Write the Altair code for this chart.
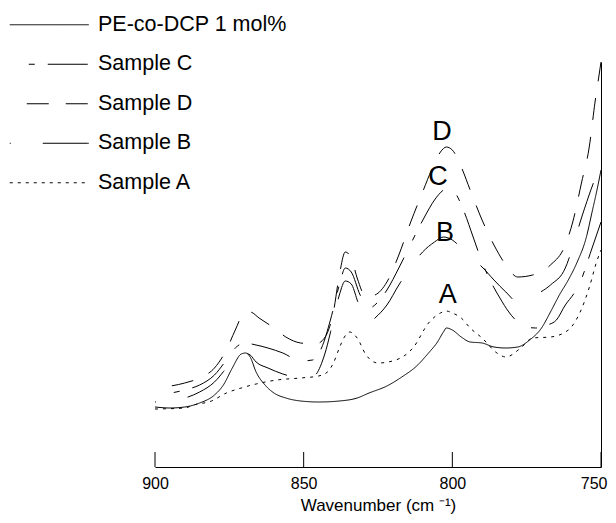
import altair as alt
import pandas as pd

# ---- data (wavenumber, absorbance in arbitrary units) ----
wn_pe = [900, 895, 890, 885, 880, 877, 874, 871, 869.5, 868, 866, 863, 860, 856, 851, 845, 838, 832, 828, 822,
         817, 812, 808, 805, 803, 802, 800, 797, 794, 790, 786, 782, 778, 774, 770, 767, 764, 761, 758, 755,
         753, 751, 750]
val_pe = [0.60, 0.59, 0.60, 0.64, 0.72, 0.82, 0.99, 1.13, 1.14, 1.10, 0.95, 0.82, 0.74, 0.69, 0.66, 0.65, 0.66,
          0.69, 0.74, 0.81, 0.90, 1.01, 1.14, 1.25, 1.35, 1.39, 1.37, 1.30, 1.25, 1.24, 1.20, 1.19, 1.20, 1.27,
          1.39, 1.55, 1.72, 1.87, 2.05, 2.29, 2.55, 2.82, 2.97]

wn_a = [900, 890, 887, 881, 876, 871, 866, 859, 851, 845, 842, 840, 838, 836.5, 834.5, 832, 829, 825, 819, 813,
        808, 804, 802, 800, 797, 794, 790, 785, 782, 777, 773, 767, 761, 757, 754, 751.5, 750]
val_a = [0.58, 0.59, 0.62, 0.66, 0.74, 0.79, 0.83, 0.87, 0.89, 0.91, 0.95, 1.04, 1.19, 1.29, 1.35, 1.29, 1.12,
         1.04, 1.07, 1.20, 1.44, 1.54, 1.56, 1.54, 1.49, 1.39, 1.29, 1.14, 1.10, 1.19, 1.29, 1.30, 1.37, 1.55,
         1.79, 2.05, 2.17]

wn_b = [900, 890, 885, 880, 876, 873, 871, 868, 866, 862, 857, 852, 849, 846, 843, 840, 838, 836, 834, 832, 830,
        828, 826, 822, 818, 814, 810, 806, 803, 800, 797, 794, 790, 786, 782, 778, 773, 767, 762, 759, 757, 754,
        752, 750]
val_b = [0.65, 0.69, 0.75, 0.85, 0.99, 1.10, 1.15, 1.12, 1.05, 0.99, 0.93, 0.89, 0.87, 0.92, 1.12, 1.47, 1.72,
         1.86, 1.83, 1.67, 1.49, 1.44, 1.49, 1.62, 1.82, 2.00, 2.15, 2.25, 2.30, 2.27, 2.19, 2.10, 2.00, 1.87,
         1.75, 1.65, 1.71, 1.82, 1.99, 2.25, 2.45, 2.72, 2.89, 3.09]

wn_c = [900, 890, 885, 880, 876, 873, 870, 866, 862, 857, 851, 847, 844, 841, 838, 836, 834, 831, 828, 825, 822,
        818, 815, 812, 809, 806, 803, 801, 799, 796, 793, 790, 787, 784, 781, 778, 775, 772, 768, 765, 762, 759,
        757, 753, 750]
val_c = [0.72, 0.77, 0.82, 0.92, 1.07, 1.19, 1.24, 1.22, 1.19, 1.14, 1.06, 1.07, 1.19, 1.47, 1.82, 1.99, 1.95,
         1.72, 1.59, 1.65, 1.77, 1.99, 2.17, 2.35, 2.52, 2.67, 2.77, 2.80, 2.74, 2.55, 2.30, 2.05, 1.85, 1.69,
         1.55, 1.45, 1.40, 1.39, 1.42, 1.47, 1.62, 1.74, 1.85, 2.19, 2.45]

wn_d = [900, 890, 885, 880, 876, 873, 870, 868, 865, 860, 856, 851, 846, 843, 840, 838, 836, 834, 832, 829, 826,
        822, 818, 814, 810, 807, 804, 802, 800, 797, 794, 790, 786, 782, 778, 773, 767, 762, 759.5, 756.5, 754,
        752, 751, 750]
val_d = [0.79, 0.84, 0.89, 0.99, 1.17, 1.37, 1.54, 1.55, 1.49, 1.39, 1.30, 1.24, 1.23, 1.29, 1.55, 1.92, 2.15,
         2.09, 1.89, 1.70, 1.72, 1.85, 2.12, 2.45, 2.75, 2.97, 3.15, 3.20, 3.17, 3.00, 2.77, 2.47, 2.22, 2.02,
         1.90, 1.92, 2.02, 2.22, 2.45, 2.85, 3.19, 3.65, 3.85, 4.05]

series_names = ["PE-co-DCP 1 mol%", "Sample C", "Sample D", "Sample B", "Sample A"]

label_text = ["A", "B", "C", "D"]
label_wn = [801.5, 802.5, 804.8, 803.5]
label_val = [1.72, 2.34, 2.90, 3.35]

tick_values = [900, 850, 800, 750]

# ---- build tables ----
rows = []
for name, wns, vals in [
    ("PE-co-DCP 1 mol%", wn_pe, val_pe),
    ("Sample C", wn_c, val_c),
    ("Sample D", wn_d, val_d),
    ("Sample B", wn_b, val_b),
    ("Sample A", wn_a, val_a),
]:
    for i, (w, v) in enumerate(zip(wns, vals)):
        rows.append({"series": name, "wn": w, "absorb": v, "idx": i})
df = pd.DataFrame(rows)
labels_df = pd.DataFrame({"text": label_text, "wn": label_wn, "absorb": label_val})
ticks_df = pd.DataFrame({"wn": tick_values})

dash_range = [[1, 0], [0, 19, 6, 13, 40, 0], [0, 17, 22, 0], [1, 32, 45, 0], [3, 5]]

FONT = "Liberation Sans"

x_enc = alt.X(
    "wn:Q",
    scale=alt.Scale(domain=[900, 750], nice=False, zero=False),
    axis=alt.Axis(
        values=tick_values, title="Wavenumber (cm \u207b\u00b9)", grid=False, ticks=False, tickSize=0,
        domainColor="black", domainWidth=1, labelFont=FONT, labelFontSize=16, labelColor="black",
        labelPadding=8, labelFlush=False,
        labelAlign={"condition": {"test": "datum.value == 750", "value": "right"}, "value": "center"},
        labelOffset={"condition": {"test": "datum.value == 750", "value": 6}, "value": 0},
        titleFont=FONT, titleFontSize=17, titleFontWeight="normal",
        titleColor="black", titlePadding=6,
    ),
)
y_enc = alt.Y(
    "absorb:Q",
    scale=alt.Scale(domain=[0, 4.05], nice=False, zero=False),
    axis=alt.Axis(orient="right", ticks=False, labels=False, title=None, grid=False,
                  domainColor="black", domainWidth=1),
)

lines = alt.Chart(df).mark_line(color="black", strokeWidth=1, interpolate="monotone").encode(
    x=x_enc,
    y=y_enc,
    strokeDash=alt.StrokeDash(
        "series:N",
        scale=alt.Scale(domain=series_names, range=dash_range),
        legend=alt.Legend(
            title=None, orient="none", legendX=-146, legendY=-48,
            symbolType="M-3.95,0H3.95", symbolSize=400, symbolOffset=29.5,
            symbolStrokeWidth=1, symbolStrokeColor="black",
            labelFont=FONT, labelFontSize=21.5, labelColor="black", labelOffset=38,
            rowPadding=16.5, labelLimit=400,
        ),
    ),
    order=alt.Order("idx:Q"),
)

labels = alt.Chart(labels_df).mark_text(
    font=FONT, fontSize=27, color="black", align="center", baseline="middle"
).encode(x=x_enc, y=y_enc, text="text:N")

ticks = alt.Chart(ticks_df).mark_rule(color="black", strokeWidth=1).encode(
    x=x_enc, y=alt.value(390), y2=alt.value(405)
)

chart = alt.layer(lines, labels, ticks).properties(
    width=446, height=405,
    autosize=alt.AutoSizeParams(type="none"),
    padding={"left": 147, "top": 54, "right": 7, "bottom": 48},
).configure_view(stroke=None)

chart.save("out.html", embed_options={"renderer": "svg", "actions": False})
